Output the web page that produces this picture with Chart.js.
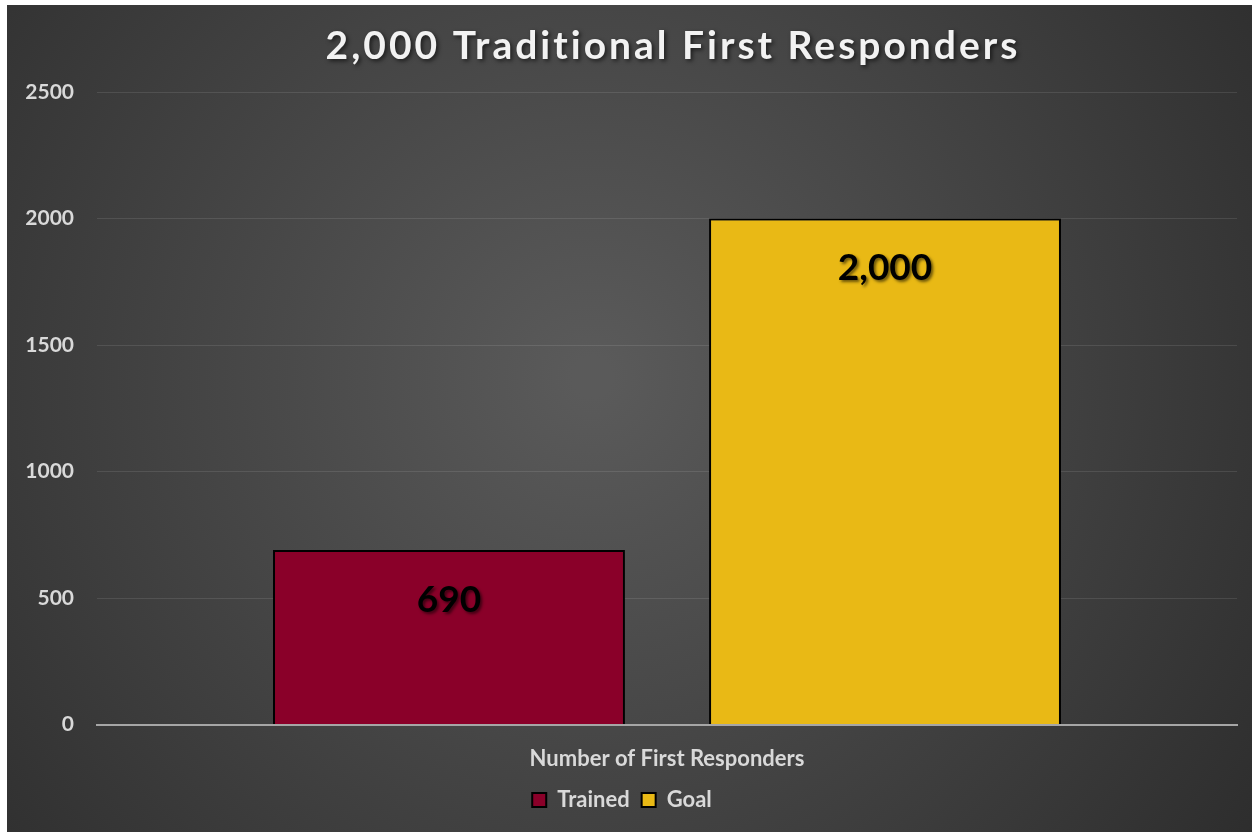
<!DOCTYPE html>
<html>
<head>
<meta charset="utf-8">
<script src="https://cdn.jsdelivr.net/npm/chart.js@4"></script>
<style>
    body { margin: 0; background: #ffffff; }
    #wrap { position: absolute; left: 7px; top: 5px; width: 1245px; height: 827px; }
</style>
</head>
<body>
<div id="wrap"><canvas id="chart"></canvas></div>
<script>
// chart data
const chartTitle = "2,000 Traditional First Responders";
const categories = ["Number of First Responders"];
const seriesNames = ["Trained", "Goal"];
const trainedValues = [690];
const goalValues = [2000];
const seriesColors = ["#8a0029", "#e9b915"];
const yTicks = [0, 500, 1000, 1500, 2000, 2500];

const FONT = "Lato, 'Open Sans', sans-serif";
const TEXT_GREY = "#d9d9d9";

// dark radial background like the office theme
const backgroundPlugin = {
    id: "bg",
    beforeDraw(chart) {
        const {ctx, width, height} = chart;
        const g = ctx.createRadialGradient(width * 0.47, height * 0.45, 20, width * 0.47, height * 0.45, width * 0.75);
        g.addColorStop(0, "#5a5a5a");
        g.addColorStop(1, "#262626");
        ctx.save();
        ctx.fillStyle = g;
        ctx.fillRect(0, 0, width, height);
        ctx.restore();
    }
};

// title with letter spacing and a soft shadow
const titlePlugin = {
    id: "spacedTitle",
    afterDraw(chart) {
        const ctx = chart.ctx;
        const area = chart.chartArea;
        ctx.save();
        ctx.font = "bold 39px " + FONT;
        ctx.letterSpacing = "3px";
        ctx.textAlign = "center";
        ctx.textBaseline = "middle";
        ctx.fillStyle = "#f2f2f2";
        ctx.shadowColor = "rgba(0,0,0,0.6)";
        ctx.shadowBlur = 4;
        ctx.shadowOffsetX = 2;
        ctx.shadowOffsetY = 2;
        ctx.fillText(chartTitle, (area.left + area.right) / 2 + 6, 41);
        ctx.restore();
    }
};

// soft shadow behind the bars
const barShadowPlugin = {
    id: "barShadow",
    beforeDatasetDraw(chart) {
        const ctx = chart.ctx;
        ctx.save();
        ctx.shadowColor = "rgba(0,0,0,0.45)";
        ctx.shadowBlur = 6;
        ctx.shadowOffsetX = 2;
        ctx.shadowOffsetY = 2;
    },
    afterDatasetDraw(chart) {
        chart.ctx.restore();
    }
};

// value labels inside the top of each bar
const valueLabelPlugin = {
    id: "valueLabels",
    afterDatasetsDraw(chart) {
        const ctx = chart.ctx;
        ctx.save();
        ctx.font = "bold 37px " + FONT;
        ctx.textAlign = "center";
        ctx.textBaseline = "middle";
        ctx.fillStyle = "#000000";
        ctx.shadowColor = "rgba(0,0,0,0.55)";
        ctx.shadowBlur = 3;
        ctx.shadowOffsetX = 2;
        ctx.shadowOffsetY = 2;
        chart.data.datasets.forEach((ds, i) => {
            chart.getDatasetMeta(i).data.forEach((bar, j) => {
                ctx.fillText(ds.data[j].toLocaleString("en-US"), bar.x, bar.y + 50);
            });
        });
        ctx.restore();
    }
};

new Chart(document.getElementById("chart"), {
    type: "bar",
    data: {
        labels: categories,
        datasets: [
            {label: seriesNames[0], data: trainedValues, backgroundColor: seriesColors[0]},
            {label: seriesNames[1], data: goalValues, backgroundColor: seriesColors[1]}
        ]
    },
    options: {
        responsive: true,
        maintainAspectRatio: false,
        animation: false,
        categoryPercentage: 0.765,
        barPercentage: 0.807,
        borderColor: "#000000",
        borderWidth: 2,
        layout: {padding: {left: 0, right: 15, top: 87, bottom: 11}},
        plugins: {
            title: {display: false},
            legend: {
                position: "bottom",
                labels: {
                    color: TEXT_GREY,
                    font: {family: FONT, size: 22, weight: "bold"},
                    boxWidth: 14,
                    boxHeight: 14,
                    padding: 12,
                    generateLabels(chart) {
                        return chart.data.datasets.map((ds, i) => ({
                            text: ds.label,
                            fillStyle: ds.backgroundColor,
                            strokeStyle: "#000000",
                            lineWidth: 2,
                            fontColor: TEXT_GREY,
                            datasetIndex: i
                        }));
                    }
                }
            },
            tooltip: {enabled: false}
        },
        scales: {
            x: {
                grid: {display: false},
                border: {color: "#a6a6a6", width: 2},
                ticks: {color: TEXT_GREY, font: {family: FONT, size: 22, weight: "bold"}, padding: 13},
                afterFit(axis) {
                    // let the legend sit closer to the category label
                    axis.height -= 8;
                }
            },
            y: {
                min: yTicks[0],
                max: yTicks[yTicks.length - 1],
                afterBuildTicks(axis) {
                    axis.ticks = yTicks.map(v => ({value: v}));
                },
                afterFit(axis) {
                    axis.width = 90;
                },
                grid: {color: "rgba(255,255,255,0.1)", lineWidth: 1, drawTicks: false},
                border: {display: false},
                ticks: {
                    color: TEXT_GREY,
                    font: {family: FONT, size: 21, weight: "bold"},
                    padding: 23,
                    callback: v => String(v)
                }
            }
        }
    },
    plugins: [backgroundPlugin, titlePlugin, barShadowPlugin, valueLabelPlugin]
});
</script>
</body>
</html>
